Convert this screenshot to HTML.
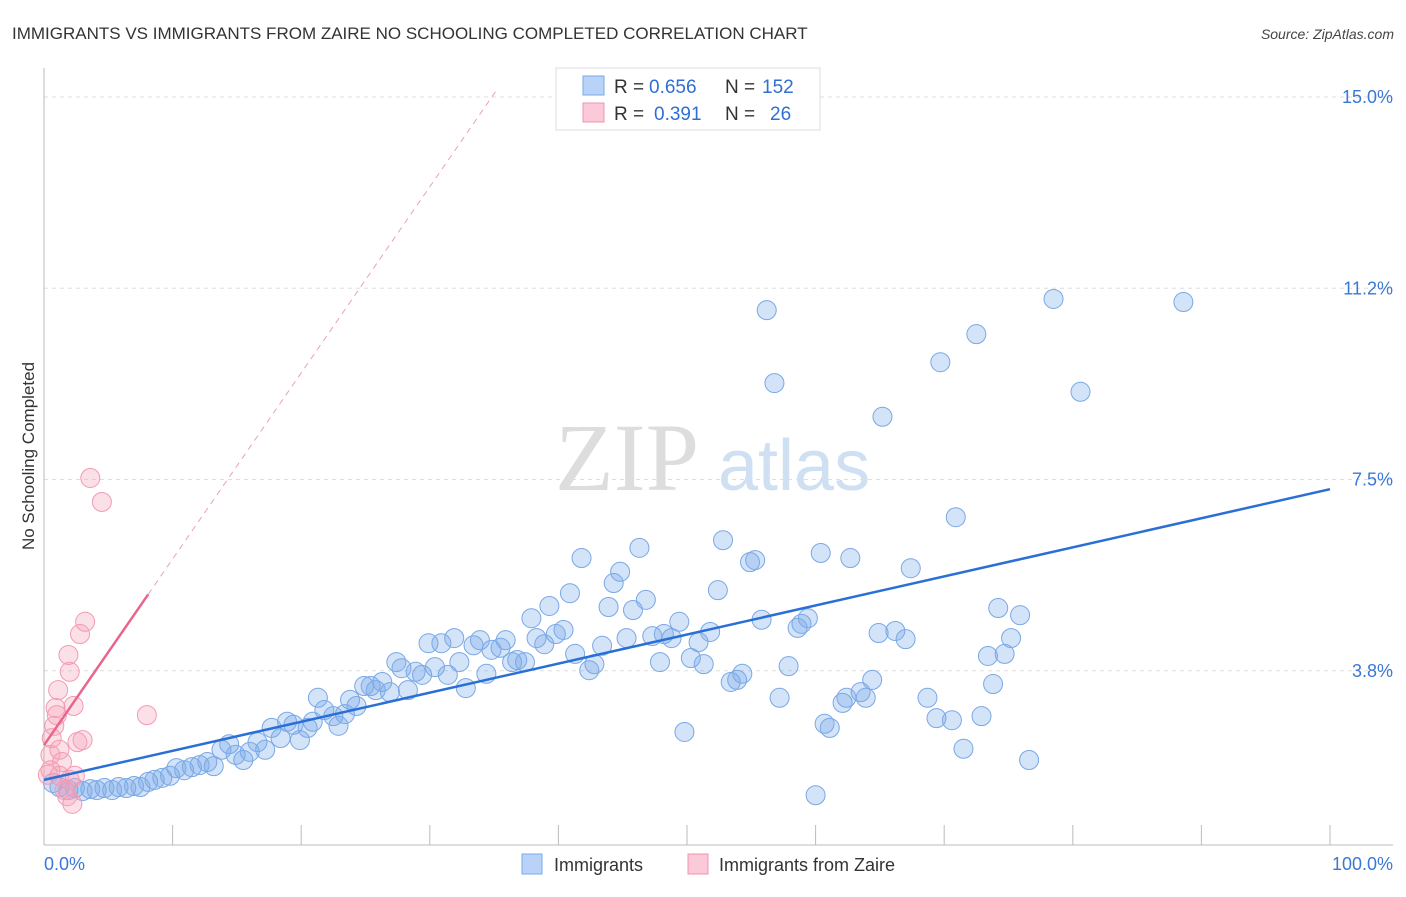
<!DOCTYPE html>
<html><head><meta charset="utf-8"><style>
body{margin:0;background:#fff;font-family:"Liberation Sans",sans-serif}
</style></head><body>
<svg width="1406" height="892" xmlns="http://www.w3.org/2000/svg" style="font-family:'Liberation Sans',sans-serif">
<text x="12" y="39" font-size="17" fill="#333">IMMIGRANTS VS IMMIGRANTS FROM ZAIRE NO SCHOOLING COMPLETED CORRELATION CHART</text>
<text x="1394" y="39" font-size="14" fill="#444" text-anchor="end" font-style="italic">Source: ZipAtlas.com</text>
<g>
<text x="555" y="490" font-size="96" fill="#ddd" font-family="Liberation Serif,serif">ZIP</text>
<text x="718" y="490" font-size="72" fill="#cfe0f3">atlas</text>
</g>
<g id="grid"></g>
<g id="axes"></g>
<text transform="translate(34,456) rotate(-90)" font-size="17" fill="#333" text-anchor="middle">No Schooling Completed</text>
<g id="pts"></g>
<g id="trends"></g>
<g>
<rect x="556" y="68" width="264" height="62" fill="#fff" stroke="#ddd"/>
<rect x="583" y="76" width="21" height="19" fill="#b8d3f7" stroke="#7aa8e8"/>
<rect x="583" y="103" width="21" height="19" fill="#fbc9d7" stroke="#f093b0"/>
<text x="614" y="93" font-size="19" fill="#333">R =</text>
<text x="649" y="93" font-size="19" fill="#2f6fd1">0.656</text>
<text x="725" y="93" font-size="19" fill="#333">N =</text>
<text x="762" y="93" font-size="19" fill="#2f6fd1">152</text>
<text x="614" y="120" font-size="19" fill="#333">R =</text>
<text x="654" y="120" font-size="19" fill="#2f6fd1">0.391</text>
<text x="725" y="120" font-size="19" fill="#333">N =</text>
<text x="770" y="120" font-size="19" fill="#2f6fd1">26</text>
</g>
<g>
<rect x="522" y="854" width="20" height="20" fill="#b8d3f7" stroke="#7aa8e8"/>
<text x="554" y="871" font-size="18" fill="#333">Immigrants</text>
<rect x="688" y="854" width="20" height="20" fill="#fbc9d7" stroke="#f093b0"/>
<text x="719" y="871" font-size="18" fill="#333">Immigrants from Zaire</text>
</g>
</svg>
<script>
const yTicks=[15,11.25,7.5,3.75];
const yTickLabels=["15.0%","11.2%","7.5%","3.8%"];
const blueX=[0.7,1.2,1.9,2.4,3.0,3.6,4.1,4.7,5.3,5.8,6.4,7.0,7.5,8.1,8.6,9.2,9.8,10.3,10.9,11.5,12.1,12.7,13.2,13.8,14.4,14.9,15.5,16.0,16.6,17.2,17.7,18.4,18.9,19.4,19.9,20.5,20.9,21.3,21.8,22.5,22.9,23.4,23.8,24.3,24.9,25.4,25.8,26.3,26.9,27.4,27.8,28.3,28.9,29.4,29.9,30.4,30.9,31.4,31.9,32.3,32.8,33.4,33.9,34.4,34.8,35.5,35.9,36.4,36.8,37.4,37.9,38.3,38.9,39.3,39.8,40.4,40.9,41.3,41.8,42.4,42.8,43.4,43.9,44.3,44.8,45.3,45.8,46.3,46.8,47.3,47.9,48.2,48.8,49.4,49.8,50.3,50.9,51.3,51.8,52.4,52.8,53.4,53.9,54.3,54.9,55.3,55.8,56.2,56.8,57.2,57.9,58.6,58.9,59.4,60.0,60.4,60.7,61.1,62.1,62.4,62.7,63.5,63.9,64.4,64.9,65.2,66.2,67.0,67.4,68.7,69.4,69.7,70.6,70.9,71.5,72.5,72.9,73.4,73.8,74.2,74.7,75.2,75.9,76.6,78.5,80.6,88.6];
const blueY=[1.55,1.47,1.41,1.45,1.39,1.43,1.41,1.45,1.41,1.47,1.45,1.49,1.47,1.57,1.61,1.65,1.69,1.84,1.80,1.86,1.90,1.96,1.88,2.20,2.31,2.10,2.00,2.16,2.35,2.20,2.63,2.43,2.75,2.69,2.39,2.63,2.75,3.22,2.98,2.86,2.67,2.90,3.18,3.06,3.45,3.45,3.37,3.53,3.33,3.92,3.80,3.37,3.73,3.67,4.29,3.82,4.29,3.67,4.39,3.92,3.41,4.25,4.35,3.69,4.16,4.20,4.35,3.92,3.96,3.92,4.78,4.39,4.27,5.02,4.47,4.55,5.27,4.08,5.96,3.76,3.88,4.24,5.00,5.47,5.69,4.39,4.94,6.16,5.14,4.43,3.92,4.47,4.39,4.71,2.55,4.00,4.31,3.88,4.51,5.33,6.31,3.53,3.57,3.69,5.88,5.92,4.75,10.82,9.39,3.22,3.84,4.59,4.67,4.78,1.31,6.06,2.71,2.63,3.12,3.22,5.96,3.33,3.22,3.57,4.49,8.73,4.53,4.37,5.76,3.22,2.82,9.80,2.78,6.76,2.22,10.35,2.86,4.04,3.49,4.98,4.08,4.39,4.84,2.00,11.04,9.22,10.98];
const pinkX=[0.3,0.5,0.6,0.8,0.9,1.1,1.0,1.2,1.4,1.6,1.8,2.0,2.2,2.0,1.9,2.3,2.6,3.0,2.8,3.2,3.6,4.5,8.0,0.5,1.2,2.4];
const pinkY=[1.71,2.10,2.43,2.67,3.02,3.37,2.88,2.20,1.96,1.41,1.29,1.61,1.14,3.73,4.06,3.06,2.35,2.39,4.47,4.71,7.53,7.06,2.88,1.80,1.69,1.69];
const blueTrend=[1.61,7.31];
const pinkTrend=[2.29,0.365];
const X=v=>44+v*12.86, Y=v=>862-v*51;
const NS="http://www.w3.org/2000/svg";
function mk(tag,attrs,parent){const e=document.createElementNS(NS,tag);for(const k in attrs)e.setAttribute(k,attrs[k]);parent.appendChild(e);return e;}
const grid=document.getElementById('grid'),axes=document.getElementById('axes');
yTicks.forEach((t,i)=>{
 const l=mk('line',{x1:44,x2:1393,y1:Y(t),y2:Y(t),stroke:'#ddd','stroke-dasharray':'4,4'},grid);
 
 
 const tx=mk('text',{x:1393,y:Y(t)+6,'font-size':18,fill:'#3a78d6','text-anchor':'end'},axes);
 tx.textContent=yTickLabels[i];
 
 
});
let ax=mk('line',{x1:44,x2:44,y1:68,y2:845,stroke:'#bbb'},axes);


ax=mk('line',{x1:44,x2:1393,y1:845,y2:845,stroke:'#bbb'},axes);


for(let i=1;i<=10;i++){const t=mk('line',{x1:X(i*10),x2:X(i*10),y1:825,y2:845,stroke:'#bbb'},axes);
 
 }
let xl=mk('text',{x:44,y:870,'font-size':18,fill:'#3a78d6'},axes);xl.textContent='0.0%';


xl=mk('text',{x:1393,y:870,'font-size':18,fill:'#3a78d6','text-anchor':'end'},axes);xl.textContent='100.0%';


const pts=document.getElementById('pts');
blueX.forEach((x,i)=>{const c=mk('circle',{cx:X(x),cy:Y(blueY[i]),r:9.5,fill:'rgba(120,170,235,0.33)',stroke:'#7aa8e6','stroke-width':1},pts);
 
 });
pinkX.forEach((x,i)=>{const c=mk('circle',{cx:X(x),cy:Y(pinkY[i]),r:9.5,fill:'rgba(245,160,185,0.33)',stroke:'#f39ab3','stroke-width':1},pts);
 
 });
const tr=document.getElementById('trends');
let t=mk('line',{x1:X(0),y1:Y(blueTrend[0]),x2:X(100),y2:Y(blueTrend[1]),stroke:'#2a6fd6','stroke-width':2.5},tr);


t=mk('line',{x1:X(0),y1:Y(pinkTrend[0]),x2:X(8.1),y2:Y(pinkTrend[0]+pinkTrend[1]*8.1),stroke:'#e8668c','stroke-width':2.5},tr);


t=mk('line',{x1:X(8.1),y1:Y(pinkTrend[0]+pinkTrend[1]*8.1),x2:X(35.2),y2:Y(pinkTrend[0]+pinkTrend[1]*35.2),stroke:'#eaa0b6','stroke-width':1,'stroke-dasharray':'6,5'},tr);


</script>
</body></html>
